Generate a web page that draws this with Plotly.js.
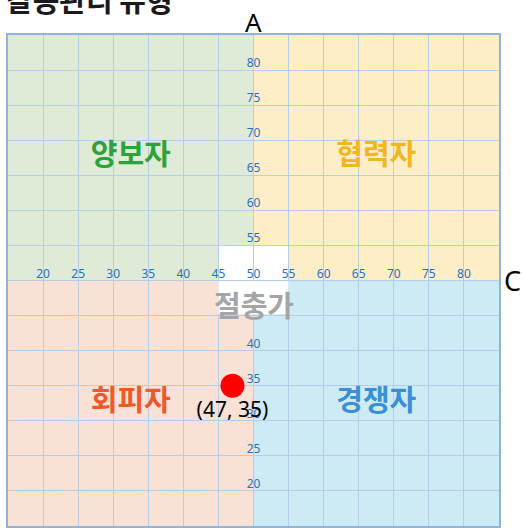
<!DOCTYPE html>
<html>
<head>
<meta charset="utf-8">
<script src="https://cdn.plot.ly/plotly-3.0.1.min.js"></script>
<style>
  html, body { margin: 0; padding: 0; background: #fff; }
  #chart { width: 523px; height: 529px; }
</style>
</head>
<body>
<div id="chart"></div>
<script>
// 축 눈금
const axisMin = 15;
const axisMax = 85;
const axisCenter = 50;
const xTickValues = [20, 25, 30, 35, 40, 45, 50, 55, 60, 65, 70, 75, 80];
const yTickValues = [20, 25, 30, 35, 40, 45, 55, 60, 65, 70, 75, 80];

// 사분면 이름 (좌상, 우상, 좌하, 우하)
const quadrantNames = ['양보자', '협력자', '회피자', '경쟁자'];
const quadrantColors = ['#2da23b', '#f2b61e', '#f0582b', '#3b8fd6'];
const quadrantFills = ['#dfebd6', '#fdeec8', '#fae1d5', '#cdebf4'];
const middleName = '절충가';

// 결과 점
const scoreC = [47];
const scoreA = [35];

const tickFont = { family: 'Noto Sans, sans-serif', size: 12, color: '#2a70c0' };
const krFont = 'Noto Sans CJK KR, sans-serif';

const build_chart = () => {
    const chart = document.querySelector('#chart');

    const lowMid = (axisMin + axisCenter) / 2;
    const highMid = (axisCenter + axisMax) / 2;
    const quadX = [lowMid, highMid, lowMid, highMid];
    const quadY = [highMid, highMid, lowMid, lowMid];
    const rects = [
        [axisMin, axisCenter, axisCenter, axisMax],
        [axisCenter, axisMax, axisCenter, axisMax],
        [axisMin, axisCenter, axisMin, axisCenter],
        [axisCenter, axisMax, axisMin, axisCenter]
    ];

    const shapes = rects.map((r, i) => ({
        type: 'rect', xref: 'x', yref: 'y', layer: 'below',
        x0: r[0], x1: r[1], y0: r[2], y1: r[3],
        fillcolor: quadrantFills[i], line: { width: 0 }
    }));
    // 절충가 영역
    shapes.push({
        type: 'rect', xref: 'x', yref: 'y', layer: 'below',
        x0: 45, x1: 55, y0: 50, y1: 55,
        fillcolor: '#ffffff', line: { width: 0 }
    });
    shapes.push({
        type: 'rect', xref: 'x', yref: 'y', layer: 'above',
        x0: 45, x1: 55, y0: 45.2, y1: 49.9,
        fillcolor: '#ffffff', line: { width: 0 }
    });

    const data = [
        {
            x: xTickValues, y: xTickValues.map(() => axisCenter),
            mode: 'text', text: xTickValues.map(String),
            textposition: 'top center', textfont: tickFont,
            hoverinfo: 'skip', cliponaxis: false, showlegend: false
        },
        {
            x: yTickValues.map(() => axisCenter), y: yTickValues,
            mode: 'text', text: yTickValues.map(String),
            textposition: 'top center', textfont: tickFont,
            hoverinfo: 'skip', cliponaxis: false, showlegend: false
        },
        {
            x: quadX, y: quadY, mode: 'text', text: quadrantNames,
            textposition: 'middle center',
            textfont: { family: krFont, size: 29, color: quadrantColors, weight: 'bold' },
            hoverinfo: 'skip', showlegend: false
        },
        {
            x: scoreC, y: scoreA, mode: 'markers+text',
            marker: { color: '#ff0000', size: 24 },
            text: scoreC.map((c, i) => '(' + c + ', ' + scoreA[i] + ')'),
            textposition: 'bottom center',
            textfont: { family: 'Noto Sans, sans-serif', size: 21, color: '#000' },
            cliponaxis: false, showlegend: false
        }
    ];

    const axisBase = {
        range: [axisMin, axisMax], dtick: 5, tick0: 0,
        showgrid: true, gridcolor: '#b6cde6', gridwidth: 1,
        zeroline: false, showticklabels: false, ticks: '',
        showline: true, mirror: true, linecolor: '#8fb3de', linewidth: 2,
        fixedrange: true
    };

    const layout = {
        width: 523, height: 529,
        margin: { l: 8, r: 24, t: 35, b: 3 },
        paper_bgcolor: '#ffffff', plot_bgcolor: '#ffffff',
        xaxis: Object.assign({}, axisBase),
        yaxis: Object.assign({}, axisBase),
        shapes: shapes,
        annotations: [
            {
                text: '<b>갈등관리 유형</b>', xref: 'paper', yref: 'paper',
                x: -0.008, y: 1.073, xanchor: 'left', yanchor: 'middle',
                showarrow: false, font: { family: krFont, size: 29, color: '#1a1a1a' }
            },
            {
                text: 'A', xref: 'x', yref: 'paper', x: axisCenter, y: 1.027,
                xanchor: 'center', yanchor: 'middle', showarrow: false,
                font: { family: 'Noto Sans, sans-serif', size: 26, color: '#000' }
            },
            {
                text: 'C', xref: 'paper', yref: 'y', x: 1.006, y: axisCenter,
                xanchor: 'left', yanchor: 'middle', showarrow: false,
                font: { family: 'Noto Sans, sans-serif', size: 27, color: '#000' }
            },
            {
                text: '<b>' + middleName + '</b>', xref: 'x', yref: 'y',
                x: axisCenter, y: 46.6, xanchor: 'center', yanchor: 'middle',
                showarrow: false,
                font: { family: krFont, size: 29, color: '#a5a5a5' }
            }
        ]
    };

    Plotly.newPlot(chart, data, layout, { displayModeBar: false, staticPlot: true });
};

document.addEventListener('DOMContentLoaded', build_chart);
</script>
</body>
</html>
